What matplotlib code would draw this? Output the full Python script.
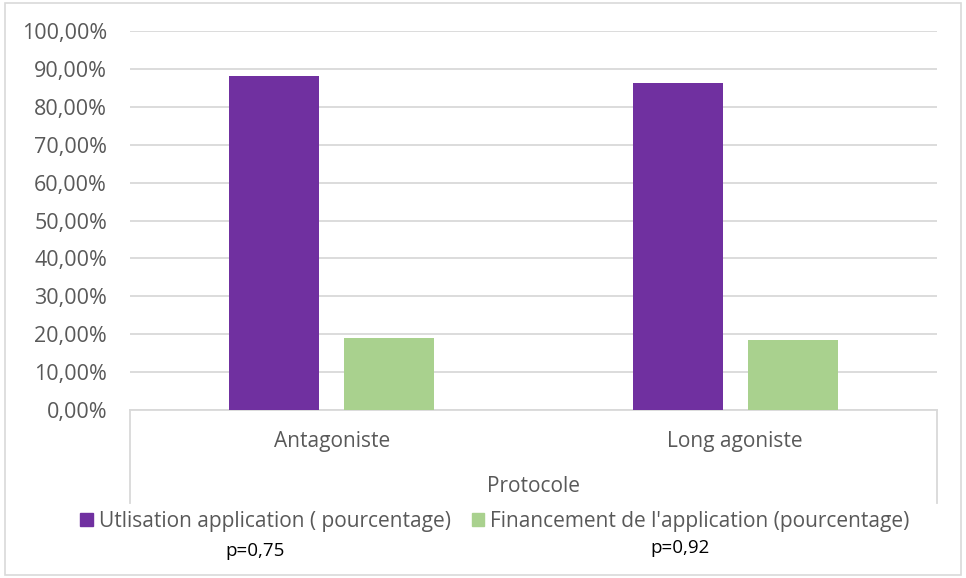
import matplotlib.pyplot as plt
import matplotlib.patches as mpatches
import numpy as np

categories = ["Antagoniste", "Long agoniste"]
series_names = ["Utlisation application ( pourcentage)",
                "Financement de l'application (pourcentage)"]
utilisation = [0.88, 0.862]
financement = [0.191, 0.185]
p_values = ["p=0,75", "p=0,92"]
y_ticks = np.arange(0, 1.01, 0.1)

purple = "#7030A0"
green = "#A9D18E"
grid_c = "#D9D9D9"
txt_c = "#595959"

plt.rcParams['font.family'] = ['Open Sans', 'DejaVu Sans']

W, H = 966, 578
fig = plt.figure(figsize=(W / 100, H / 100), dpi=100, facecolor='w')

# cadre exterieur
fig.add_artist(mpatches.Rectangle((5 / W, 3 / H), 956 / W, 572 / H,
                                  transform=fig.transFigure, fill=False,
                                  edgecolor=grid_c, linewidth=1.2))

# zone de trace
ax = fig.add_axes([130 / W, (H - 410) / H, 807 / W, 379 / H])
x = np.arange(len(categories))
w = 0.223
gap = 0.062
ax.bar(x - (w + gap) / 2, utilisation, w, color=purple, zorder=3)
ax.bar(x + (w + gap) / 2, financement, w, color=green, zorder=3)

ax.set_xlim(-0.5, len(categories) - 0.5)
ax.set_ylim(0, 1)
ax.set_yticks(y_ticks)
ax.set_yticklabels([f"{v * 100:.2f}%".replace(".", ",") for v in y_ticks])
ax.yaxis.grid(True, color=grid_c, linewidth=1.3)
ax.set_axisbelow(True)
ax.tick_params(axis='y', length=0, pad=16.5, labelsize=15.5, colors=txt_c)
ax.set_xticks([])
for s in ["top", "right", "left"]:
    ax.spines[s].set_visible(False)
ax.spines["bottom"].set_color(grid_c)
ax.spines["bottom"].set_linewidth(1.3)

# axe des categories (boite ouverte)
depth = (503 - 410) / 379
for xv in [0, 1]:
    ax.plot([xv, xv], [0, -depth], transform=ax.transAxes, color=grid_c,
            linewidth=1.3, clip_on=False)
for i, c in enumerate(categories):
    ax.text(i, -(441 - 410) / 379, c, ha='center', va='center',
            transform=ax.get_xaxis_transform(), fontsize=15, color=txt_c)
ax.text(0.5, -(487 - 410) / 379, "Protocole", ha='center', va='center',
        transform=ax.transAxes, fontsize=15, color=txt_c)

# legende
patches = [
    mpatches.Patch(color=purple, label=series_names[0]),
    mpatches.Patch(color=green, label=series_names[1]),
]
leg = fig.legend(handles=patches, loc='center', ncol=2,
                 bbox_to_anchor=(495 / W, 1 - 521 / H), frameon=False,
                 fontsize=15, handlelength=0.6, handleheight=0.6,
                 handletextpad=0.3, columnspacing=1.0, borderaxespad=0)
for t in leg.get_texts():
    t.set_color(txt_c)

# valeurs p
fig.text(255 / W, 1 - 551 / H, p_values[0], ha='center', va='center',
         fontsize=13.5, color='black')
fig.text(680 / W, 1 - 548 / H, p_values[1], ha='center', va='center',
         fontsize=13.5, color='black')

fig.savefig("out.png", dpi=100)
